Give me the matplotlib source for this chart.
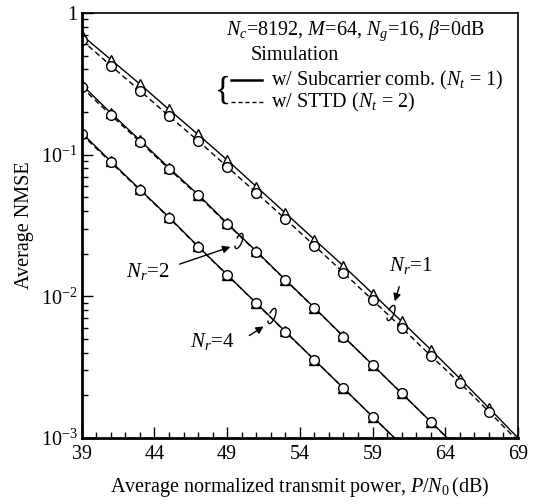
import numpy as np
import matplotlib
matplotlib.use("Agg")
import matplotlib.pyplot as plt
from matplotlib.patches import Arc, FancyArrowPatch
from matplotlib.lines import Line2D
from matplotlib.ticker import FixedLocator, FuncFormatter

plt.rcParams["font.family"] = ["Liberation Serif", "DejaVu Serif"]
plt.rcParams["mathtext.fontset"] = "custom"
plt.rcParams["mathtext.rm"] = "Liberation Serif"
plt.rcParams["mathtext.it"] = "Liberation Serif:italic"

# transmit power P/N0 (dB)
snr_nr1 = [39, 41, 43, 45, 47, 49, 51, 53, 55, 57, 59, 61, 63, 65, 67, 69]
snr_nr2 = [39, 41, 43, 45, 47, 49, 51, 53, 55, 57, 59, 61, 63, 65]
snr_nr4 = [39, 41, 43, 45, 47, 49, 51, 53, 55, 57, 59, 61]

# subcarrier combining, Nt = 1 (solid, triangles)
comb_nr1 = [0.699, 0.4695, 0.3153, 0.2084, 0.1388, 0.0917, 0.0596, 0.03877,
            0.02518, 0.01637, 0.01047, 0.00665, 0.00421, 0.00263, 0.00163, 0.001]
comb_nr2 = [0.312, 0.197, 0.1265, 0.0808, 0.0523, 0.0328, 0.02085, 0.01312,
            0.00831, 0.00521, 0.003285, 0.00207, 0.001305, 0.000818]
comb_nr4 = [0.1425, 0.0898, 0.0569, 0.0362, 0.02255, 0.01422, 0.00896,
            0.00565, 0.003562, 0.002247, 0.001416, 0.000894]

# STTD, Nt = 2 (dashed, circles)
sttd_nr1 = [0.645, 0.425, 0.283, 0.1875, 0.1255, 0.0822, 0.0539, 0.0352,
            0.0228, 0.01469, 0.00942, 0.00601, 0.00381, 0.00245, 0.001535, 0.00095]
sttd_nr2 = [0.2989, 0.1905, 0.1235, 0.0792, 0.0515, 0.0324, 0.02066, 0.01304,
            0.00827, 0.00519, 0.003275, 0.002068, 0.001303, 0.000816]
sttd_nr4 = [0.1392, 0.0883, 0.0563, 0.0359, 0.02241, 0.01415, 0.00893,
            0.00563, 0.003554, 0.002244, 0.001414, 0.000893]

W, H = 536, 504
fig = plt.figure(figsize=(W / 100, H / 100), dpi=100)
ax = fig.add_axes([81.7 / W, 1 - 438 / H, 436.3 / W, 425 / H])


def fp(px, py):
    # pixel position -> figure fraction
    return (px / W, 1 - py / H)


mk = dict(markersize=7, markerfacecolor="white", markeredgecolor="black",
          markeredgewidth=1.0, color="black", clip_on=True)

for x, y in [(snr_nr1, comb_nr1), (snr_nr2, comb_nr2), (snr_nr4, comb_nr4)]:
    ax.plot(x, y, "-", marker="^", lw=1.0, **mk)

ax.plot(snr_nr1, sttd_nr1, ls=(0, (4, 2.5)), marker="o", lw=1.0,
        markevery=slice(0, len(snr_nr1) - 1), **mk)
for x, y in [(snr_nr2, sttd_nr2), (snr_nr4, sttd_nr4)]:
    ax.plot(x, y, ls=(0, (4, 2.5)), marker="o", lw=1.0, **mk)

ax.set_yscale("log")
ax.set_xlim(39, 69)
ax.set_ylim(1e-3, 1)
ax.set_xticks([39, 44, 49, 54, 59, 64, 69])
ax.set_xticks(np.arange(39, 70, 1), minor=True)
ax.yaxis.set_major_locator(FixedLocator([1e-3, 1e-2, 1e-1, 1]))
ax.yaxis.set_minor_locator(FixedLocator(
    [m * 10.0 ** e for e in (-3, -2, -1) for m in range(2, 10)]))
ax.yaxis.set_major_formatter(FuncFormatter(
    lambda v, p: "1" if v >= 1 else r"$10^{%d}$" % round(np.log10(v))))

fs = 14.5
ax.tick_params(which="both", direction="in", top=False, right=False,
               labelsize=fs, colors="black")
ax.tick_params(which="major", length=8, width=1.0)
ax.tick_params(which="minor", length=4, width=1.0)
ax.tick_params(axis="y", which="major", pad=3)
ax.tick_params(axis="x", which="major", pad=5)
for s in ["left", "bottom"]:
    ax.spines[s].set_linewidth(2.0)
for s in ["top", "right"]:
    ax.spines[s].set_linewidth(1.2)

ax.set_xlabel(r"Average normalized transmit power, $P/N_0\,$(dB)",
              fontsize=fs, labelpad=8)
ax.set_ylabel("Average NMSE", fontsize=fs, labelpad=5)

# legend block
fig.text(*fp(355, 31), r"$N_c$=8192, $M$=64, $N_g$=16, $\beta$=0dB",
         fontsize=fs, ha="center", va="center")
fig.text(*fp(295, 56), "Simulation", fontsize=fs, ha="center", va="center")
fig.add_artist(Line2D([231 / W, 262 / W], [1 - 80 / H, 1 - 80 / H],
                      color="black", lw=1.8))
fig.add_artist(Line2D([231 / W, 264 / W], [1 - 102 / H, 1 - 102 / H],
                      color="black", lw=1.0, ls=(0, (3, 2))))
fig.text(*fp(271, 80), r"w/ Subcarrier comb. ($N_t$ = 1)", fontsize=fs,
         ha="left", va="center")
fig.text(*fp(271, 102), r"w/ STTD ($N_t$ = 2)", fontsize=fs,
         ha="left", va="center")
fig.text(*fp(223, 90), "{", fontsize=24, ha="center", va="center")

# N_r annotations
labels = [(r"$N_r$=1", (411, 266), (400, 284), (394, 304), (391, 313)),
          (r"$N_r$=2", (148, 271), (177, 265), (233, 246), (239, 241)),
          (r"$N_r$=4", (212, 342), (247, 337), (266, 325), (272, 316))]
for txt, tpos, a0, a1, cpos in labels:
    fig.text(*fp(*tpos), txt, fontsize=15, ha="center", va="center")
    fig.add_artist(FancyArrowPatch(
        fp(*a0), fp(*a1), transform=fig.transFigure, arrowstyle="-|>",
        mutation_scale=11, lw=1.0, color="black"))
    fig.add_artist(Arc(fp(*cpos), 6 / W, 16 / H, angle=-20, theta1=-110,
                       theta2=150, transform=fig.transFigure, lw=1.0,
                       color="black"))

fig.savefig("out.png", dpi=100)
